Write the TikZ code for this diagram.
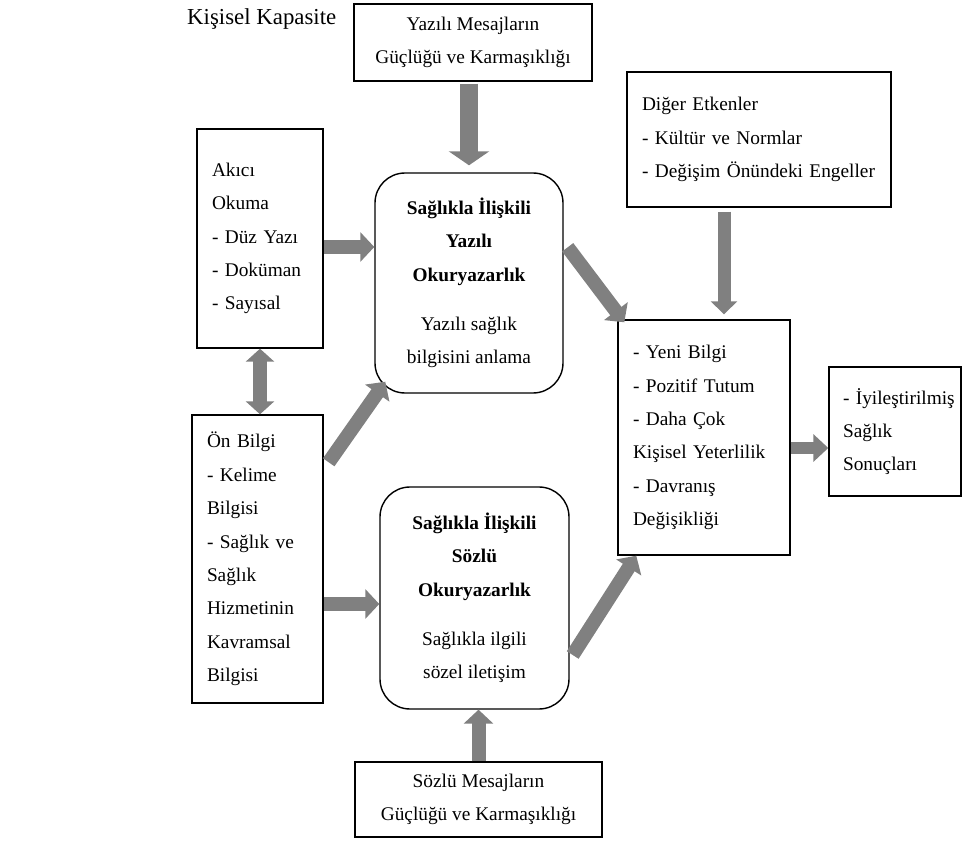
\documentclass[tikz,border=0pt]{standalone}
\usepackage{fontspec}
\setmainfont{Liberation Serif}
\usepackage{tikz}
\usetikzlibrary{positioning,arrows.meta}

\definecolor{okgri}{RGB}{128,128,128}

\begin{document}
\begin{tikzpicture}[
  metin/.style={font=\fontsize{11}{19}\selectfont},
  kutu/.style={draw, line width=0.8pt, metin, inner xsep=0.3cm, inner ysep=0pt},
  yuvarlak/.style={kutu, rounded corners=0.6cm, align=center},
  ok/.style={color=okgri, line width=0.28cm, -{Triangle[width=0.58cm,length=0.28cm]}},
  ciftok/.style={ok, {Triangle[width=0.56cm,length=0.26cm]}-{Triangle[width=0.56cm,length=0.26cm]}}
]
  \useasboundingbox (0,0) rectangle (19.3,-16.86);

  \node[anchor=base west, font=\fontsize{13}{15}\selectfont] (kapasite) at (3.62,-0.50) {Kişisel Kapasite};
  \node[kutu, align=center, minimum width=4.76cm, minimum height=1.54cm] (ustmesaj) at (9.46,-0.85) {Yazılı Mesajların\\Güçlüğü ve Karmaşıklığı};
  \node[kutu, text width=1.92cm, align=left, minimum height=4.38cm] (akici) at (5.20,-4.77) {Akıcı\\Okuma\\- Düz Yazı\\- Doküman\\- Sayısal};
  \node[yuvarlak, minimum width=3.76cm, minimum height=4.40cm] (yazili) at (9.38,-5.66) {\textbf{Sağlıkla İlişkili}\\\textbf{Yazılı}\\\textbf{Okuryazarlık}\\[9pt]Yazılı sağlık\\bilgisini anlama};
  \node[kutu, text width=4.68cm, align=left, minimum height=2.70cm] (diger) at (15.18,-2.79) {Diğer Etkenler\\\mbox{- Kültür ve Normlar}\\\mbox{- Değişim Önündeki Engeller}};
  \node[kutu, text width=2.02cm, align=left, minimum height=5.76cm] (onbilgi) at (5.15,-11.18) {Ön Bilgi\\- Kelime\\Bilgisi\\- Sağlık ve\\Sağlık\\Hizmetinin\\Kavramsal\\Bilgisi};
  \node[kutu, text width=2.84cm, align=left, minimum height=4.70cm] (sonuc) at (14.08,-8.75) {- Yeni Bilgi\\- Pozitif Tutum\\- Daha Çok\\\mbox{Kişisel Yeterlilik}\\- Davranış\\Değişikliği};
  \node[kutu, inner xsep=0.28cm, text width=2.08cm, align=left, minimum height=2.58cm] (iyi) at (17.90,-8.63) {\mbox{- İyileştirilmiş}\\Sağlık\\Sonuçları};
  \node[yuvarlak, minimum width=3.78cm, minimum height=4.44cm] (sozlu) at (9.49,-11.96) {\textbf{Sağlıkla İlişkili}\\\textbf{Sözlü}\\\textbf{Okuryazarlık}\\[9pt]Sağlıkla ilgili\\sözel iletişim};
  \node[kutu, align=center, minimum width=4.94cm, minimum height=1.50cm] (altmesaj) at (9.57,-15.99) {Sözlü Mesajların\\Güçlüğü ve Karmaşıklığı};

  % oklar
  \draw[ok, line width=0.36cm, -{Triangle[width=0.8cm,length=0.28cm]}, shorten <=0.04cm, shorten >=0.14cm] (yazili.north |- ustmesaj.south) -- (yazili.north);
  \coordinate (a1) at ([yshift=-0.17cm]akici.east);
  \draw[ok] (a1) -- (a1 -| yazili.west);
  \draw[ciftok] (akici.south) -- (akici.south |- onbilgi.north);
  \draw[ok] ([xshift=0.1cm,yshift=-0.96cm]onbilgi.north east) -- ([xshift=0.22cm,yshift=0.24cm]yazili.south west);
  \coordinate (b1) at ([yshift=-0.9cm]onbilgi.east);
  \draw[ok] (b1) -- (b1 -| sozlu.west);
  \draw[ok] ([xshift=0.08cm,yshift=-1.5cm]yazili.north east) -- ([xshift=0.14cm,yshift=-0.06cm]sonuc.north west);
  \coordinate (e1) at ([xshift=0.4cm]sonuc.north);
  \draw[ok, line width=0.26cm, -{Triangle[width=0.52cm,length=0.26cm]}, shorten <=0.08cm, shorten >=0.1cm] (e1 |- diger.south) -- (e1);
  \draw[ok] ([xshift=0.06cm,yshift=-1.14cm]sozlu.east) -- ([xshift=0.38cm]sonuc.south west);
  \draw[ok] (altmesaj.north) -- (altmesaj.north |- sozlu.south);
  \coordinate (f1) at ([yshift=-0.21cm]sonuc.east);
  \draw[ok, line width=0.24cm, -{Triangle[width=0.54cm,length=0.3cm]}] (f1) -- (f1 -| iyi.west);
\end{tikzpicture}
\end{document}
